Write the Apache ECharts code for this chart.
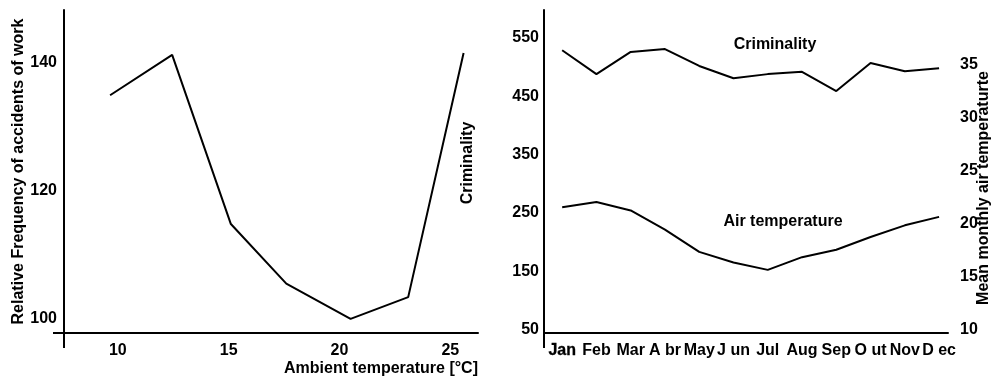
<!DOCTYPE html>
<html>
<head>
<meta charset="utf-8">
<script src="https://cdn.jsdelivr.net/npm/echarts@6/dist/echarts.min.js"></script>
<style>
	html,body{margin:0;padding:0;background:#fff;}
	#chart{width:991px;height:378px;}
</style>
</head>
<body>
<div id="chart"></div>
<script>
// left panel: accidents vs ambient temperature
var ambientTemp = [9.65, 12.45, 15.1, 17.6, 20.5, 23.1, 25.6];
var accidents = [134.9, 141.2, 114.8, 105.5, 100.0, 103.4, 141.5];
var leftXTicks = [10, 15, 20, 25];
var leftYTicks = [100, 120, 140];

// right panel: monthly criminality and air temperature
var months = ['Jan', 'Feb', 'Mar', 'A br', 'May', 'J un', 'Jul', 'Aug', 'Sep', 'O ut', 'Nov', 'D ec'];
var criminality = [529, 488, 526, 531, 502, 481, 488, 492, 459, 507, 493, 498];
var airTemp = [21.5, 22.0, 21.2, 19.4, 17.3, 16.3, 15.6, 16.8, 17.5, 18.7, 19.8, 20.6];
var crimeTicks = [50, 150, 250, 350, 450, 550];
var tempTicks = [10, 15, 20, 25, 30, 35];

var FONT = 'Liberation Sans, Arial, sans-serif';
var INK = '#000';

function pairs(xs, ys){
	var out = [];
	for(var i = 0; i < ys.length; i++){
		out.push([xs[i], ys[i]]);
	}
	return out;
}

function monthIndex(){
	var idx = [];
	for(var i = 0; i < months.length; i++){ idx.push(i + 1); }
	return idx;
}

function label(extra){
	return Object.assign({ color: INK, fontFamily: FONT, fontWeight: 'bold', fontSize: 16 }, extra);
}

var nameStyle = { color: INK, fontFamily: FONT, fontWeight: 'bold', fontSize: 16 };
var axisLine = { show: true, onZero: false, lineStyle: { color: INK, width: 2 } };

var myChart = echarts.init(document.getElementById('chart'), null, { renderer: 'canvas' });

myChart.setOption({
	animation: false,
	backgroundColor: '#fff',
	grid: [
		{ left: 64, top: 10, right: 513, bottom: 45 },
		{ left: 544, top: 10, right: 43, bottom: 45 }
	],
	xAxis: [
		{
			gridIndex: 0, type: 'value', min: 7.57, max: 26.25,
			axisLine: axisLine, axisTick: { show: false }, splitLine: { show: false },
			axisLabel: label({ margin: 10, customValues: leftXTicks })
		},
		{
			gridIndex: 1, type: 'value', min: 0.47, max: 12.26,
			axisLine: axisLine, axisTick: { show: false }, splitLine: { show: false },
			axisLabel: label({
				margin: 10,
				customValues: monthIndex(),
				formatter: function(v){
					var m = months[Math.round(v) - 1];
					return v === 1 ? '{j|' + m + '}' : m;
				},
				rich: { j: { fontFamily: FONT, fontWeight: 'bold', fontSize: 16, color: INK, textBorderColor: INK, textBorderWidth: 0.3 } }
			})
		}
	],
	yAxis: [
		{
			gridIndex: 0, type: 'value', min: 97.8, max: 148.2,
			name: 'Relative Frequency of accidents of work', nameLocation: 'middle', nameGap: 36,
			nameTextStyle: nameStyle,
			axisLine: axisLine, axisTick: { show: false }, splitLine: { show: false },
			axisLabel: label({ margin: 7, customValues: leftYTicks })
		},
		{
			gridIndex: 1, type: 'value', min: 44.3, max: 597.9,
			axisLine: axisLine, axisTick: { show: false }, splitLine: { show: false },
			axisLabel: label({ margin: 5, customValues: crimeTicks })
		},
		{
			gridIndex: 1, type: 'value', position: 'right', min: 9.65, max: 40.1,
			axisLine: { show: false }, axisTick: { show: false }, splitLine: { show: false },
			axisLabel: label({ margin: 12, customValues: tempTicks })
		}
	],
	series: [
		{
			type: 'line', xAxisIndex: 0, yAxisIndex: 0, symbol: 'none',
			lineStyle: { color: INK, width: 2 },
			data: pairs(ambientTemp, accidents)
		},
		{
			type: 'line', xAxisIndex: 1, yAxisIndex: 1, symbol: 'none',
			lineStyle: { color: INK, width: 2 },
			data: pairs(monthIndex(), criminality)
		},
		{
			type: 'line', xAxisIndex: 1, yAxisIndex: 2, symbol: 'none',
			lineStyle: { color: INK, width: 2 },
			data: pairs(monthIndex(), airTemp)
		}
	],
	graphic: [
		// axis lines running past the crossing point
		{ type: 'line', shape: { x1: 53, y1: 333, x2: 64, y2: 333 }, style: { stroke: INK, lineWidth: 2 } },
		{ type: 'line', shape: { x1: 64, y1: 333, x2: 64, y2: 348 }, style: { stroke: INK, lineWidth: 2 } },
		{ type: 'line', shape: { x1: 544, y1: 333, x2: 544, y2: 348 }, style: { stroke: INK, lineWidth: 2 } },
		// titles
		{ type: 'text', x: 478, y: 369, style: { text: 'Ambient temperature [°C]', font: 'bold 16px ' + FONT, fill: INK, textAlign: 'right', textVerticalAlign: 'middle' } },
		{ type: 'text', x: 468, y: 163, rotation: Math.PI / 2, style: { text: 'Criminality', font: 'bold 16px ' + FONT, fill: INK, textAlign: 'center', textVerticalAlign: 'middle' } },
		{ type: 'text', x: 984, y: 188, rotation: Math.PI / 2, style: { text: 'Mean monthly air temperaturte', font: 'bold 16px ' + FONT, fill: INK, textAlign: 'center', textVerticalAlign: 'middle' } },
		{ type: 'text', x: 775, y: 45, style: { text: 'Criminality', font: 'bold 16px ' + FONT, fill: INK, textAlign: 'center', textVerticalAlign: 'middle' } },
		{ type: 'text', x: 783, y: 222, style: { text: 'Air temperature', font: 'bold 16px ' + FONT, fill: INK, textAlign: 'center', textVerticalAlign: 'middle' } }
	]
});
</script>
</body>
</html>
